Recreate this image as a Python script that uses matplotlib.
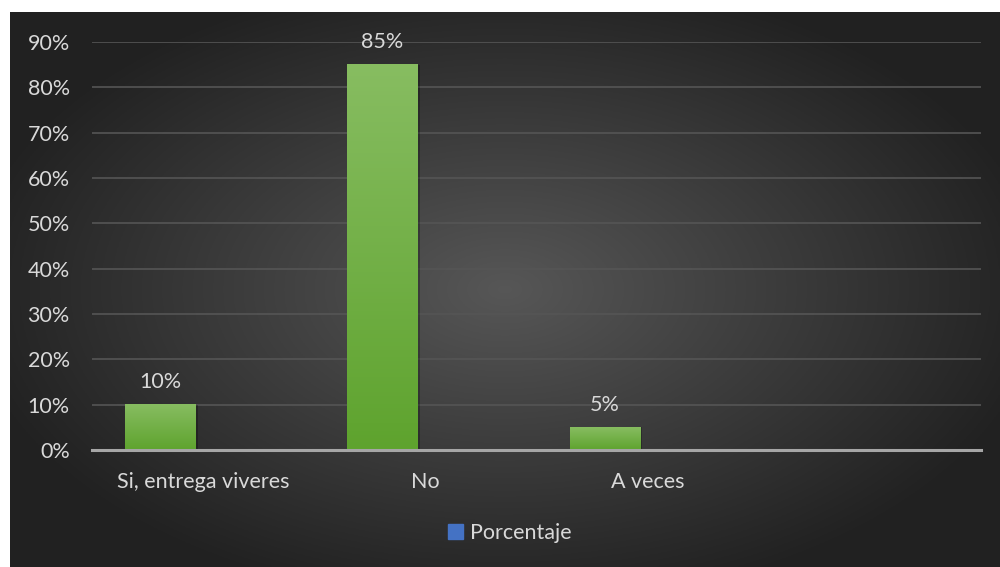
import matplotlib.pyplot as plt
import numpy as np
from matplotlib.patches import Patch

categorias = ["Si, entrega viveres", "No", "A veces", ""]
porcentaje = [0.10, 0.85, 0.05, None]
etiquetas = ["10%", "85%", "5%"]
yticks = [0.0, 0.1, 0.2, 0.3, 0.4, 0.5, 0.6, 0.7, 0.8, 0.9]

plt.rcParams["font.family"] = ["Lato", "DejaVu Sans"]
TXT = "#d9d9d9"
FS = 15.5

fig = plt.figure(figsize=(10, 5.67), dpi=100)
fig.patch.set_facecolor("white")

# fondo con degradado radial
bg = fig.add_axes([0.01, 0.0, 0.99, 1 - 12 / 567])
bg.set_axis_off()
yy, xx = np.mgrid[-1:1:300j, -1:1:500j]
r = np.sqrt((xx / 1.05) ** 2 + (yy / 1.1) ** 2)
val = np.clip(0.34 - 0.2 * r, 0.13, 0.34)
bg.imshow(np.dstack([val, val, val]), aspect="auto", extent=[0, 1, 0, 1])
bg.set_xlim(0, 1)
bg.set_ylim(0, 1)

ax = fig.add_axes([0.092, 1 - 450 / 567, 0.981 - 0.092, (450 - 42) / 567])
ax.patch.set_alpha(0)

w = 0.315
off = -0.194
grad = np.linspace(0, 1, 100).reshape(-1, 1)
top = np.array([0.53, 0.74, 0.38])
bot = np.array([0.37, 0.64, 0.18])
img = (bot + (top - bot) * grad[:, :, None]).reshape(100, 1, 3)
for i, v in enumerate(porcentaje):
    if v is None:
        continue
    x0 = i + off - w / 2
    # sombra
    ax.bar(i + off + 0.012, v, width=w, color="black", alpha=0.25, zorder=2)
    ax.imshow(img, extent=[x0, x0 + w, 0, v], aspect="auto", origin="lower", zorder=3)
    ax.text(i + off, v + 0.05, etiquetas[i], ha="center", va="center",
            color=TXT, fontsize=FS)
ax.set_xlim(-0.5, len(categorias) - 0.5)
ax.set_ylim(0, 0.9)

ax.set_yticks(yticks)
ax.set_yticklabels([f"{int(round(t * 100))}%" for t in yticks], color=TXT, fontsize=FS)
ax.set_xticks(range(len(categorias)))
ax.set_xticklabels(categorias, color=TXT, fontsize=FS)
ax.tick_params(length=0)
ax.tick_params(axis="x", pad=16)
ax.tick_params(axis="y", pad=16)
ax.yaxis.grid(True, color="#555555", linewidth=1.2)
ax.set_axisbelow(True)
for s in ["top", "right", "left"]:
    ax.spines[s].set_visible(False)
ax.spines["bottom"].set_color("#a6a6a6")
ax.spines["bottom"].set_linewidth(2.2)
ax.spines["bottom"].set_zorder(5)

handles = [Patch(facecolor="#4472c4", edgecolor="#4472c4", label="Porcentaje")]
leg = fig.legend(handles=handles, loc="center", bbox_to_anchor=(0.51, 1 - 533 / 567),
                 frameon=False, fontsize=FS, handlelength=0.7, handleheight=0.7,
                 handletextpad=0.3)
for t in leg.get_texts():
    t.set_color(TXT)

fig.savefig("out.png", dpi=100)
